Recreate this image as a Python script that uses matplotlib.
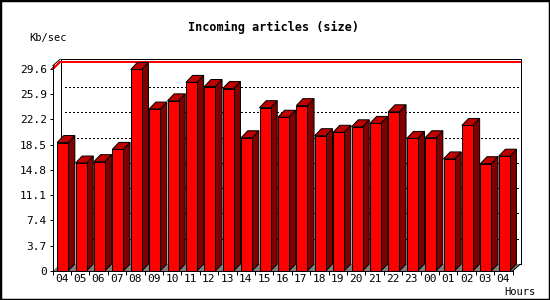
"""
Incoming articles (size) - 3D bar chart in old GD/inn-stats style.
"""
import matplotlib
matplotlib.use('Agg')
import matplotlib.pyplot as plt
import matplotlib.patches as mpatches
import numpy as np


# ============================================================
# DATA
# ============================================================
hours = ['04', '05', '06', '07', '08', '09', '10', '11', '12', '13', '14',
         '15', '16', '17', '18', '19', '20', '21', '22', '23', '00', '01',
         '02', '03', '04']
kb_sec = [18.8, 15.8, 16.0, 17.8, 29.5, 23.7, 24.9, 27.6, 27.0, 26.7, 19.5,
          23.9, 22.5, 24.2, 19.8, 20.3, 21.1, 21.6, 23.3, 19.4, 19.5, 16.4,
          21.3, 15.7, 16.8]
y_max = 29.6
y_ticks = [0, 3.7, 7.4, 11.1, 14.8, 18.5, 22.2, 25.9, 29.6]

FONT = 'DejaVu Sans Mono'
C_FRONT = '#FF0000'
C_SIDE = '#800000'
C_TOP = '#C00000'
C_FLOOR = '#808080'

W, H = 550, 300
n = len(hours)

# ============================================================
# FIGURE / AXES (front plane of the 3D box)
# ============================================================
fig = plt.figure(figsize=(W / 100, H / 100), dpi=100, facecolor='white')
ax_l, ax_b, ax_w, ax_h = 52.5, 29, 460, 205
ax = fig.add_axes([ax_l / W, ax_b / H, ax_w / W, ax_h / H])
ax.set_facecolor('none')
ytop = 30.0
ax.set_xlim(0, n)
ax.set_ylim(0, ytop)

px_x = n / ax_w          # data units per pixel (x)
px_y = ytop / ax_h       # data units per pixel (y)

# depth offsets
pdx, pdy = 8 * px_x, 7 * px_y     # box depth
bdx, bdy = 6.7 * px_x, 7 * px_y   # bar depth
lw = 0.72                          # ~1px

# back panel + floor
back = mpatches.Rectangle((pdx, pdy), n, ytop, facecolor='white',
                          edgecolor='black', linewidth=lw, zorder=0,
                          clip_on=False, antialiased=False)
ax.add_patch(back)
floor = mpatches.Polygon([(0, 0), (pdx, pdy), (n + pdx, pdy), (n, 0)],
                         closed=True, facecolor=C_FLOOR, edgecolor='none',
                         zorder=0.5, clip_on=False)
ax.add_patch(floor)
# box diagonals
ax.plot([0, pdx], [ytop, ytop + pdy], color='black', lw=lw, clip_on=False,
        zorder=1, solid_capstyle='butt')
ax.plot([n, n + pdx], [0, pdy], color='black', lw=lw, clip_on=False,
        zorder=1, solid_capstyle='butt')

# grid lines on the back wall
for v in y_ticks[1:]:
    if v == y_max:
        ax.plot([0, pdx, n + pdx], [v, v + pdy, v + pdy], color='red',
                lw=lw, clip_on=False, zorder=0.8, antialiased=False)
    else:
        ax.plot([pdx + 4 * px_x, n + pdx], [v + pdy, v + pdy],
                color='black', lw=lw, linestyle=(0, (1.4, 2.8)),
                clip_on=False, zorder=0.8, antialiased=False)

# bars
x0s = np.arange(n) + 0.25
bw = 0.6
ax.bar(x0s, kb_sec, width=bw, align='edge', color=C_FRONT,
       edgecolor='black', linewidth=lw, zorder=3)
for i, (x0, v) in enumerate(zip(x0s, kb_sec)):
    side = mpatches.Polygon([(x0 + bw, 0), (x0 + bw + bdx, bdy),
                             (x0 + bw + bdx, v + bdy), (x0 + bw, v)],
                            closed=True, facecolor=C_SIDE, edgecolor='black',
                            linewidth=lw, zorder=2, clip_on=False)
    top = mpatches.Polygon([(x0, v), (x0 + bdx, v + bdy),
                            (x0 + bw + bdx, v + bdy), (x0 + bw, v)],
                           closed=True, facecolor=C_TOP, edgecolor='black',
                           linewidth=lw, zorder=2, clip_on=False)
    ax.add_patch(side)
    ax.add_patch(top)

# ============================================================
# AXES STYLE
# ============================================================
for s in ['top', 'right']:
    ax.spines[s].set_visible(False)
for s in ['left', 'bottom']:
    ax.spines[s].set_linewidth(lw)
    ax.spines[s].set_zorder(4)

ax.set_yticks(y_ticks)
ax.set_yticklabels([('%g' % v) for v in y_ticks])
ax.tick_params(axis='y', length=2.5, width=lw, pad=1.5, labelsize=8,
               direction='out')

ax.set_xticks(np.arange(n + 1))
ax.set_xticklabels([])
ax.set_xticks(np.arange(n) + 0.5, minor=True)
ax.set_xticklabels(hours, minor=True)
ax.tick_params(axis='x', which='major', length=3, width=lw, direction='out')
ax.tick_params(axis='x', which='minor', length=0, pad=2.5, labelsize=8)
for lab in ax.get_xticklabels(minor=True) + ax.get_yticklabels():
    lab.set_fontfamily(FONT)

# ============================================================
# TEXT
# ============================================================
fig.text(274 / W, 1 - 27 / H, 'Incoming articles (size)', fontsize=8.5,
         fontweight='bold', fontfamily=FONT, ha='center', va='center')
fig.text(29 / W, 1 - 37.5 / H, 'Kb/sec', fontsize=7.5, fontfamily=FONT,
         ha='left', va='center')
fig.text(504 / W, 1 - 292 / H, 'Hours', fontsize=7.5, fontfamily=FONT,
         ha='left', va='center')

# outer border
fig.patches.append(mpatches.Rectangle((0, 0), 1, 1, transform=fig.transFigure,
                                      figure=fig, fill=False,
                                      edgecolor='black', linewidth=2.5))

fig.savefig('out.png', dpi=100, facecolor='white')
plt.close(fig)
